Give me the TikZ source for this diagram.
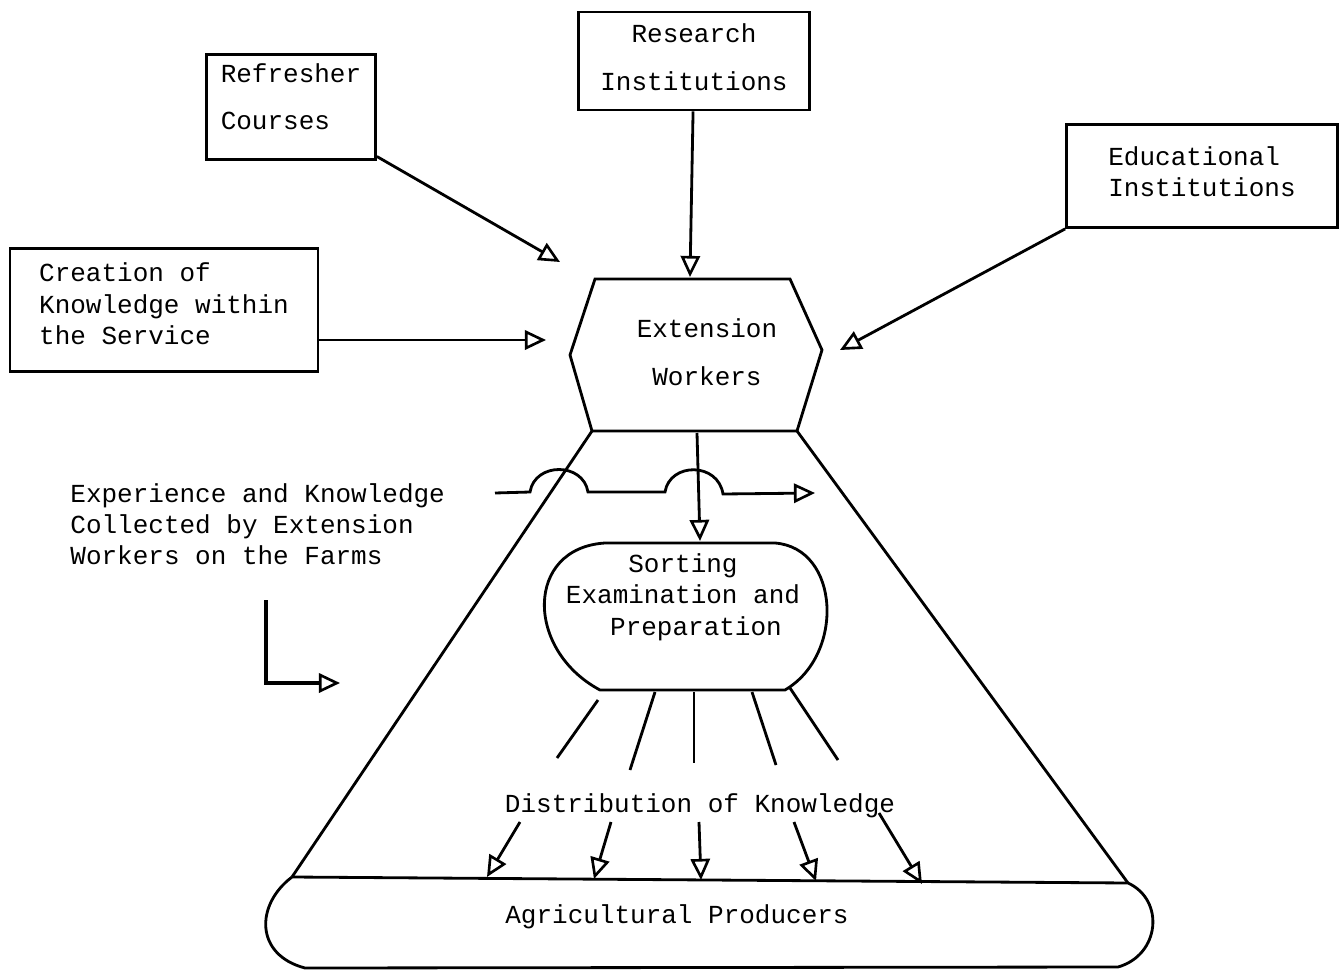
\documentclass[tikz,border=0pt]{standalone}
\usepackage{fontspec}
\setmainfont{Liberation Mono}
\usetikzlibrary{arrows.meta,calc,positioning}

\begin{document}
\begin{tikzpicture}[x=0.02cm, y=-0.02cm, line width=1.6pt,
    >={Triangle[open, length=12pt, width=11pt, line width=1.5pt]},
    box/.style={draw, line width=1.6pt, inner sep=0pt},
    txt/.style={font=\fontsize{14.8}{#1}\selectfont, inner sep=0pt}]
    \useasboundingbox (0,0) rectangle (1340,977);

    %% Source boxes
    \node [box, txt=26.7pt, minimum width=3.38cm, minimum height=2.1cm, align=left, text depth=0.4cm] (ref) at (291,107) {Refresher\\Courses};
    \node [box, txt=27.8pt, minimum width=4.62cm, minimum height=1.96cm, align=center, text depth=0.16cm] (res) at (694,61) {Research\\Institutions};
    \node [box, txt=17.6pt, minimum width=5.42cm, minimum height=2.06cm, align=left, text depth=0.16cm] (edu) at (1202,176) {Educational\\Institutions};
    \node [box, txt=17.9pt, minimum width=6.16cm, minimum height=2.46cm, align=left, text depth=0.24cm] (cre) at (164,310) {Creation of\\Knowledge within\\the Service};

    %% Extension workers
    \draw (595,279) -- (790,279) -- (822,350) -- (797,431) -- (592,431) -- (570,355) -- cycle;
    \coordinate (hex bl) at (592,431);
    \coordinate (hex br) at (797,431);
    \coordinate (hex bm) at (697,433);
    \node [txt=27.2pt, align=center] (ext) at (707,352) {Extension\\Workers};
    \coordinate (ext n) at (690,277);
    \coordinate (ext w) at (546,340);
    \coordinate (ext nw) at (560,262);
    \coordinate (ext e) at (840,350);

    %% Sorting
    \draw (605,543) -- (775,543) .. controls (840,548) and (845,655) .. (785,690) -- (600,690) .. controls (525,650) and (525,548) .. (605,543);
    \coordinate (sort n) at (700,541);
    \node [txt=17.9pt, align=center] (sort) at (683,597) {Sorting\\Examination and\\\hspace*{1em}Preparation};

    %% Producers
    \coordinate (prod tl) at (292,877);
    \coordinate (prod tr) at (1128,883);
    \draw (prod tl) -- (prod tr) .. controls (1165,900) and (1160,955) .. (1118,967) -- (305,968) .. controls (255,955) and (255,905) .. (prod tl);
    \node [txt=17.6pt] (prod) at (677,917) {Agricultural Producers};
    \draw (hex bl) -- (prod tl);
    \draw (hex br) -- (prod tr);

    %% Texts
    \node [txt=17.6pt, align=left, anchor=west] (exp) at (69,524) {Experience and Knowledge\\Collected by Extension\\Workers on the Farms};
    \node [txt=17.6pt] (dist) at (700,806) {Distribution of Knowledge};

    %% Arrows
    \draw [->] (res) -- (ext n);
    \draw [->] (ref) -- (ext nw);
    \draw [->] (edu.south west) -- (ext e);
    \draw [->] (ext w -| cre.east) -- (ext w);
    \draw [->] (hex bm) -- (sort n);

    \coordinate (hop a) at (495,493);
    \coordinate (hop b) at (815,493);
    \draw [->] (hop a) -- (530,492) .. controls (535,462) and (583,462) .. (588,492) -- (665,492) .. controls (670,462) and (718,462) .. (723,494) -- (hop b);

    \coordinate (farm a) at (266,600);
    \coordinate (farm b) at (340,683);
    \draw [->, line width=2.4pt] (farm a) |- (farm b);

    %% Rays
    \draw (598,700) -- (557,758);
    \draw (655,692) -- (630,770);
    \draw (694,692) -- (694,763);
    \draw (752,692) -- (776,765);
    \draw (790,688) -- (838,760);

    %% Distribution arrows
    \coordinate (d1) at (520,822); \coordinate (p1) at (487,877);
    \coordinate (d2) at (611,822); \coordinate (p2) at (594,879);
    \coordinate (d3) at (699,822); \coordinate (p3) at (701,880);
    \coordinate (d4) at (794,822); \coordinate (p4) at (816,881);
    \coordinate (d5) at (879,813); \coordinate (p5) at (922,884);
    \draw [->] (d1) -- (p1);
    \draw [->] (d2) -- (p2);
    \draw [->] (d3) -- (p3);
    \draw [->] (d4) -- (p4);
    \draw [->] (d5) -- (p5);
\end{tikzpicture}
\end{document}
